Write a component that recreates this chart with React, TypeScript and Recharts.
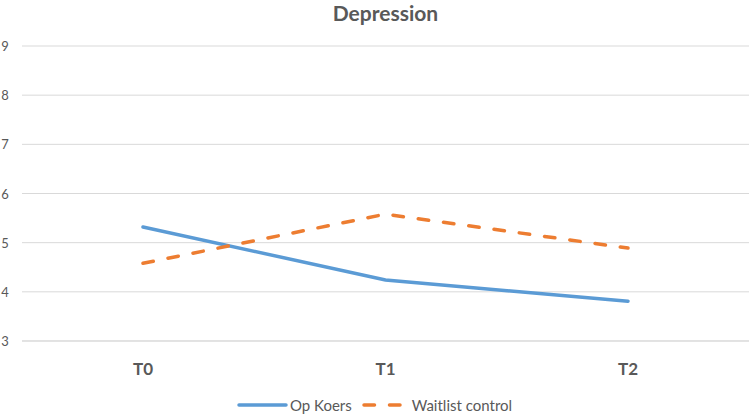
import { CartesianGrid, Legend, Line, LineChart, XAxis, YAxis } from "recharts";

const timepoints = ["T0", "T1", "T2"];
const opKoers = [5.32, 4.24, 3.81];
const waitlistControl = [4.58, 5.58, 4.89];
const yTicks = [3, 4, 5, 6, 7, 8, 9];

const data = timepoints.map((t, i) => ({
  time: t,
  opKoers: opKoers[i],
  waitlist: waitlistControl[i],
}));

const gray = "#595959";
const font = "Lato, 'Open Sans', sans-serif";

function YTick({ y, payload }: any) {
  return (
    <text x={5} y={y} dy={5} textAnchor="middle" fill={gray} fontSize={13} fontFamily={font}>
      {payload.value}
    </text>
  );
}

function XTick({ x, y, payload }: any) {
  return (
    <text x={x} y={y} dy={26} textAnchor="middle" fill={gray} fontSize={17} fontWeight={700} fontFamily={font}>
      {payload.value}
    </text>
  );
}

function LegendContent() {
  return (
    <div
      style={{
        display: "flex",
        justifyContent: "center",
        alignItems: "center",
        gap: 10,
        fontFamily: font,
        fontSize: 15,
        color: gray,
        paddingTop: 15,
      }}
    >
      <span style={{ display: "flex", alignItems: "center", gap: 2 }}>
        <svg width={51} height={8}>
          <line x1={2} y1={4} x2={49} y2={4} stroke="#5B9BD5" strokeWidth={3.5} strokeLinecap="round" />
        </svg>
        Op Koers
      </span>
      <span style={{ display: "flex", alignItems: "center", gap: 8 }}>
        <svg width={42} height={8}>
          <line
            x1={2}
            y1={4}
            x2={40}
            y2={4}
            stroke="#ED7D31"
            strokeWidth={3.5}
            strokeLinecap="round"
            strokeDasharray="10.5 15"
          />
        </svg>
        Waitlist control
      </span>
    </div>
  );
}

export default function App() {
  return (
    <div style={{ position: "absolute", left: 0, top: 0, width: 749, height: 417, background: "#fff" }}>
      <div
        style={{
          position: "absolute",
          top: 0,
          left: 22,
          width: 727,
          textAlign: "center",
          fontFamily: font,
          fontWeight: 700,
          fontSize: 21,
          color: gray,
          lineHeight: "25px",
        }}
      >
        Depression
      </div>
      <LineChart width={749} height={417} data={data} margin={{ top: 46, right: 0, left: 0, bottom: 0 }}>
        <CartesianGrid horizontal vertical={false} stroke="#d9d9d9" strokeWidth={1} />
        <XAxis
          dataKey="time"
          axisLine={{ stroke: "#d9d9d9" }}
          tickLine={false}
          tick={<XTick />}
          height={40}
          padding={{ left: 121, right: 121 }}
        />
        <YAxis
          domain={[3, 9]}
          ticks={yTicks}
          axisLine={false}
          tickLine={false}
          tick={<YTick />}
          width={22}
          interval={0}
        />
        <Legend verticalAlign="bottom" height={36} content={<LegendContent />} />
        <Line
          dataKey="opKoers"
          name="Op Koers"
          stroke="#5B9BD5"
          strokeWidth={3.5}
          strokeLinecap="round"
          dot={false}
          isAnimationActive={false}
        />
        <Line
          dataKey="waitlist"
          name="Waitlist control"
          stroke="#ED7D31"
          strokeWidth={3.5}
          strokeLinecap="round"
          strokeDasharray="10.5 15"
          dot={false}
          isAnimationActive={false}
        />
      </LineChart>
    </div>
  );
}
